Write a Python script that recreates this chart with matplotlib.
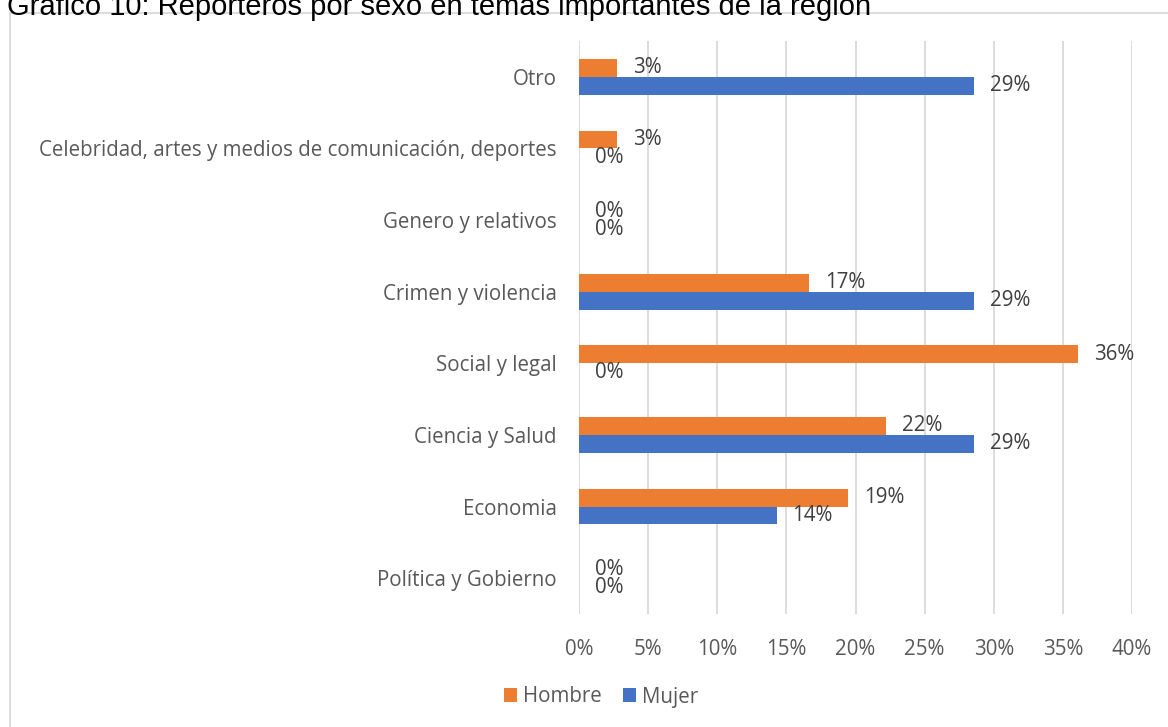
import matplotlib
matplotlib.use("Agg")
import matplotlib.pyplot as plt
from matplotlib.patches import Rectangle, Patch

categories = [
    "Política y Gobierno",
    "Economia",
    "Ciencia y Salud",
    "Social y legal",
    "Crimen y violencia",
    "Genero y relativos",
    "Celebridad, artes y medios de comunicación, deportes",
    "Otro",
]
hombre = [0.0, 19.44, 22.22, 36.11, 16.67, 0.0, 2.78, 2.78]
mujer = [0.0, 14.29, 28.57, 0.0, 28.57, 0.0, 0.0, 28.57]
xticks = [0, 5, 10, 15, 20, 25, 30, 35, 40]
title = "Gráfico 10: Reporteros por sexo en temas importantes de la región"

ORANGE = "#ED7D31"
BLUE = "#4472C4"
TXT = "#595959"
GRID = "#D9D9D9"
FONT = "Open Sans"
FS = 14.8

W, H = 1168, 727
fig = plt.figure(figsize=(W / 100, H / 100), dpi=100)
fig.patch.set_facecolor("white")

# chart frame (runs off the right and bottom edges)
fig.patches.append(Rectangle((10 / W, -0.05), 1.2, 1 - 13 / H + 0.05,
                             transform=fig.transFigure, fill=False,
                             edgecolor=GRID, linewidth=1.3))

fig.text(7 / W, 1 - 15 / H, title, family="Liberation Sans", fontsize=21,
         color="black", va="baseline", ha="left")

ax = fig.add_axes([579 / W, 1 - 614 / H, (1132 - 579) / W, (614 - 41) / H])
ys = list(range(len(categories)))
bh = 0.25
ax.barh([y + bh / 2 for y in ys], hombre, height=bh, color=ORANGE, label="Hombre")
ax.barh([y - bh / 2 for y in ys], mujer, height=bh, color=BLUE, label="Mujer")

ax.set_xlim(0, 40)
ax.set_ylim(-0.5, len(categories) - 0.5)
ax.set_xticks(xticks)
ax.set_xticklabels([f"{t}%" for t in xticks])
ax.set_yticks(ys)
ax.set_yticklabels(categories)
ax.tick_params(length=0, labelsize=FS, labelcolor=TXT)
ax.tick_params(axis="x", pad=18)
ax.tick_params(axis="y", pad=16)
for lbl in ax.get_xticklabels() + ax.get_yticklabels():
    lbl.set_family(FONT)
ax.grid(axis="x", color=GRID, linewidth=1.3)
ax.set_axisbelow(True)
for s in ax.spines.values():
    s.set_visible(False)

off = 16 / ((1132 - 579) / 40)  # 16 px in data units
for y, hv, mv in zip(ys, hombre, mujer):
    ax.text(hv + off, y + bh / 2, f"{round(hv)}%", va="center", ha="left",
            fontsize=FS, color="#404040", family=FONT)
    ax.text(mv + off, y - bh / 2, f"{round(mv)}%", va="center", ha="left",
            fontsize=FS, color="#404040", family=FONT)

handles = [Patch(facecolor=ORANGE, label="Hombre"), Patch(facecolor=BLUE, label="Mujer")]
leg = fig.legend(handles=handles, loc="center", bbox_to_anchor=(601 / W, 1 - 697 / H),
                 ncol=2, frameon=False, handlelength=0.65, handleheight=0.65,
                 handletextpad=0.3, columnspacing=1.0,
                 prop={"family": FONT, "size": FS})
for t in leg.get_texts():
    t.set_color(TXT)

fig.savefig("out.png", dpi=100)
